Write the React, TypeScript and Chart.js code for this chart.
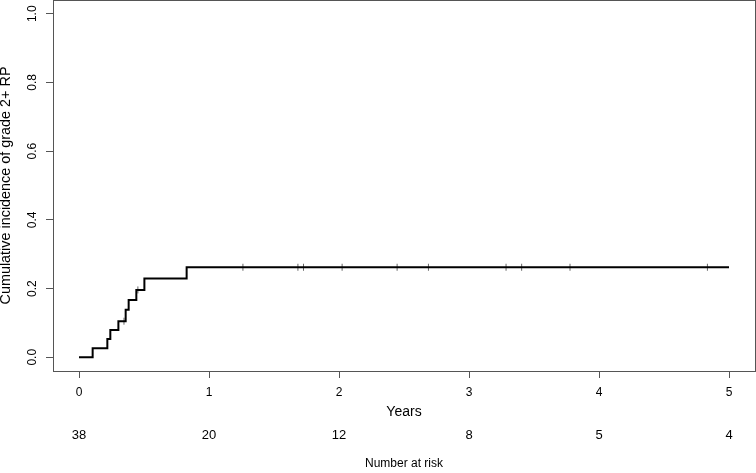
import React, { useEffect, useRef } from "react";
import { Chart, registerables } from "chart.js";

Chart.register(...registerables);

// Step curve: time (years) at which cumulative incidence jumps, and the new level
const eventTimes = [0, 0.105, 0.218, 0.241, 0.303, 0.359, 0.382, 0.441, 0.503, 0.828, 5.0];
const cumIncidence = [0, 0.026, 0.053, 0.079, 0.105, 0.138, 0.167, 0.196, 0.229, 0.262, 0.262];

// Censoring marks
const censorTimes = [0.346, 0.453, 1.261, 1.684, 1.727, 2.024, 2.447, 2.688, 3.285, 3.405, 3.777, 4.834];
const censorLevels = [0.105, 0.196, 0.262, 0.262, 0.262, 0.262, 0.262, 0.262, 0.262, 0.262, 0.262, 0.262];

// Axes
const xTicks = [0, 1, 2, 3, 4, 5];
const yTicks = [0, 0.2, 0.4, 0.6, 0.8, 1.0];
const numberAtRisk = [38, 20, 12, 8, 5, 4];

const FONT = "'Liberation Sans', Arial, Helvetica, sans-serif";
const AXIS_GRAY = "#555555";

const boxPlugin = {
  id: "rBox",
  afterDatasetsDraw(chart: any) {
    const { ctx, chartArea } = chart;
    const { left, top, right, bottom } = chartArea;
    ctx.save();
    ctx.strokeStyle = AXIS_GRAY;
    ctx.lineWidth = 1;
    ctx.strokeRect(left + 0.5, top + 0.5, right - left, bottom - top);
    ctx.restore();
  },
};

const fixH = (h: number) => (s: any) => {
  s.height = h;
  s.paddingLeft = 0;
  s.paddingRight = 0;
  s.paddingTop = 0;
  s.paddingBottom = 0;
};

export default function App() {
  const canvasRef = useRef<HTMLCanvasElement | null>(null);

  useEffect(() => {
    if (!canvasRef.current) return;
    const curve = eventTimes.map((t, i) => ({ x: t, y: cumIncidence[i] }));
    const censors = censorTimes.map((t, i) => ({ x: t, y: censorLevels[i] }));

    const chart = new Chart(canvasRef.current, {
      type: "scatter",
      data: {
        datasets: [
          {
            label: "Cumulative incidence",
            data: curve,
            showLine: true,
            stepped: "before",
            borderColor: "#000000",
            borderWidth: 2,
            pointRadius: 0,
            fill: false,
            xAxisID: "x",
            yAxisID: "y",
          },
          {
            label: "Censored",
            data: censors,
            showLine: false,
            pointStyle: "line",
            rotation: 90,
            pointRadius: 3.5,
            borderColor: "#666666",
            borderWidth: 1,
            xAxisID: "x",
            yAxisID: "y",
          },
        ],
      } as any,
      options: {
        animation: false,
        responsive: true,
        maintainAspectRatio: false,
        layout: { autoPadding: false, padding: { left: 0, right: 1, top: 0, bottom: 0 } },
        plugins: {
          legend: { display: false },
          tooltip: { enabled: false },
        },
        scales: {
          x: {
            type: "linear",
            position: "bottom",
            weight: 0,
            min: -0.2,
            max: 5.2,
            afterBuildTicks: (s: any) => {
              s.ticks = xTicks.map((v) => ({ value: v }));
            },
            afterFit: fixH(50),
            grid: { drawOnChartArea: false, drawTicks: true, tickLength: 7, color: AXIS_GRAY },
            border: { display: false },
            ticks: {
              autoSkip: false,
              maxRotation: 0,
              padding: 7,
              color: "#000000",
              font: { family: FONT, size: 12 },
              callback: (v: any) => String(v),
            },
            title: {
              display: true,
              text: "Years",
              color: "#000000",
              font: { family: FONT, size: 14 },
              padding: { top: 0, bottom: 0 },
            },
          },
          risk: {
            type: "linear",
            axis: "x",
            position: "bottom",
            weight: 1,
            min: -0.2,
            max: 5.2,
            afterBuildTicks: (s: any) => {
              s.ticks = xTicks.map((v) => ({ value: v }));
            },
            afterFit: fixH(52),
            grid: { display: false, drawTicks: false },
            border: { display: false },
            ticks: {
              autoSkip: false,
              maxRotation: 0,
              padding: 7,
              color: "#000000",
              font: { family: FONT, size: 13 },
              callback: (v: any) => String(numberAtRisk[xTicks.indexOf(Number(v))]),
            },
            title: {
              display: true,
              text: "Number at risk",
              color: "#000000",
              font: { family: FONT, size: 12 },
              padding: { top: 0, bottom: 2 },
            },
          },
          y: {
            type: "linear",
            position: "left",
            min: -0.04,
            max: 1.04,
            afterBuildTicks: (s: any) => {
              s.ticks = yTicks.map((v) => ({ value: v }));
            },
            afterFit: (s: any) => {
              s.width = 53;
              s.paddingTop = 0;
              s.paddingBottom = 0;
              s.paddingLeft = 0;
              s.paddingRight = 0;
            },
            grid: { drawOnChartArea: false, drawTicks: true, tickLength: 7, color: AXIS_GRAY },
            border: { display: false },
            ticks: {
              autoSkip: false,
              minRotation: 90,
              maxRotation: 90,
              crossAlign: "center",
              padding: 5,
              color: "#000000",
              font: { family: FONT, size: 12 },
              callback: (v: any) => Number(v).toFixed(1),
            },
            title: {
              display: true,
              text: "Cumulative incidence of grade 2+ RP",
              color: "#000000",
              font: { family: FONT, size: 14.4, lineHeight: 1 },
              padding: { top: -1, bottom: 0 },
            },
          },
        },
      } as any,
      plugins: [boxPlugin],
    });

    return () => {
      chart.destroy();
    };
  }, []);

  return (
    <div
      style={{
        position: "fixed",
        left: 0,
        top: 0,
        width: "756px",
        height: "473px",
        background: "#ffffff",
      }}
    >
      <canvas ref={canvasRef} />
    </div>
  );
}
